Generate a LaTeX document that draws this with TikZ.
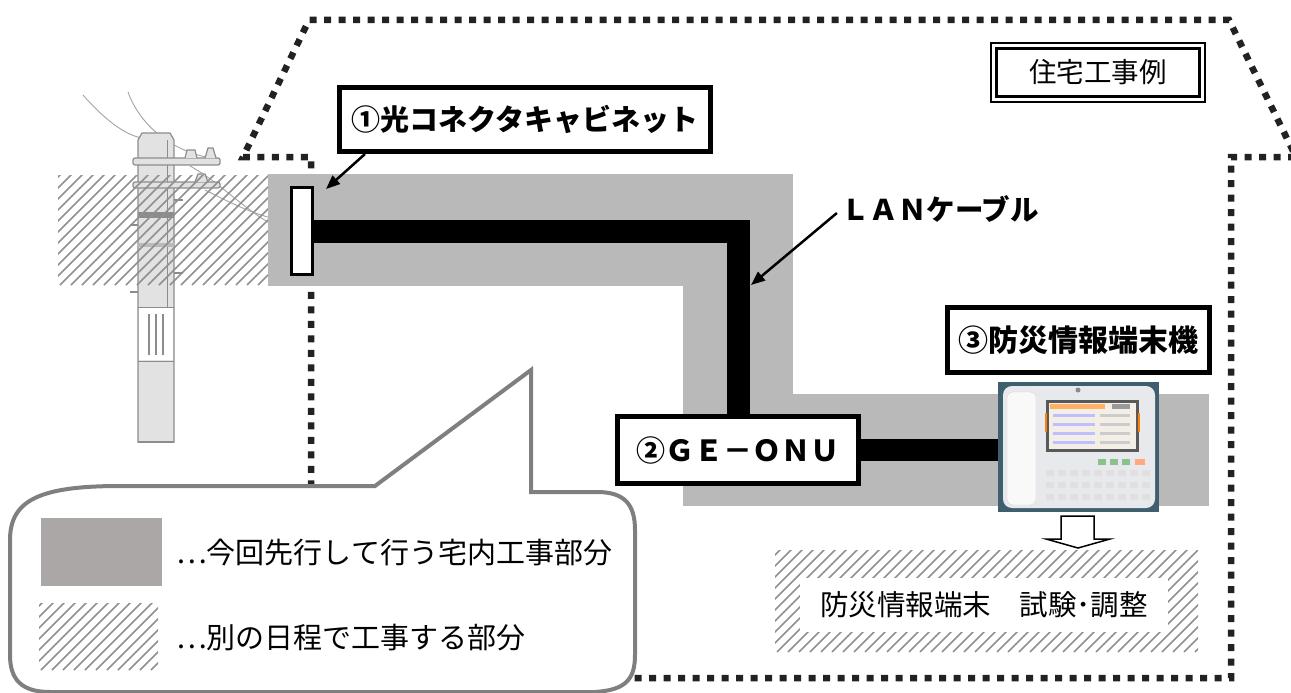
\documentclass[tikz,border=0pt]{standalone}
\usepackage{fontspec}
\setmainfont{Noto Sans CJK JP}
\usetikzlibrary{arrows.meta,calc}
\definecolor{bandgray}{HTML}{B9B9B9}
\definecolor{leggray}{HTML}{ABA7A7}
\definecolor{hatchgray}{HTML}{909090}
\definecolor{calloutgray}{HTML}{7F7F7F}
\definecolor{dotcol}{HTML}{222222}
\definecolor{polefill}{HTML}{E2E2E2}
\definecolor{poleline}{HTML}{8C8C8C}
\definecolor{phonebg}{HTML}{3F5F6E}
\definecolor{phonebody}{HTML}{E8E9ED}
\definecolor{screenbg}{HTML}{F3EFE6}
\newcommand\mkhatch[4]{%
  \begin{scope}
    \clip (#1,#2) rectangle (#3,#4);
    \foreach \k in {0,11,...,600} {
      \draw[hatchline] ({#1-130+\k},#4) -- ++(140,-140);
    }
  \end{scope}}
\tikzset{
  housedot/.style={line width=6.5pt, draw=dotcol, dash pattern=on 7pt off 7.5pt},
  hatchline/.style={draw=hatchgray, line width=1.5pt},
  cable/.style={line width=23pt, draw=black},
  labelbox/.style={draw=black, line width=5pt, fill=white, inner sep=0pt,
    font=\fontsize{29}{31}\selectfont\bfseries},
  arr/.style={line width=2.5pt, -{Triangle[length=14pt,width=11pt]}},
  poleshape/.style={fill=polefill, draw=poleline, line width=1.2pt},
  wire/.style={draw=poleline!80, line width=0.9pt},
  callout/.style={draw=calloutgray, line width=4pt, fill=white},
  legtext/.style={anchor=west, inner sep=0pt, font=\fontsize{29}{31}\selectfont},
}
\begin{document}
\begin{tikzpicture}[x=1pt,y=-1pt]
\useasboundingbox (0,0) rectangle (1291,693);

% house outline
\draw[housedot] (620,678) -- (1231,678) -- (1231,157) -- (1296,157) -- (1229,20)
  -- (309,20) -- (243,157) -- (311,157) -- (311,600);

% utility pole
\draw[wire] (83,95) .. controls (105,120) and (125,135) .. (142,138);
\draw[wire] (128,92) .. controls (140,125) and (170,150) .. (210,158);
\draw[wire] (190,166) .. controls (225,185) and (255,222) .. (292,233);
\draw[wire] (205,190) .. controls (235,205) and (260,218) .. (292,222);
\draw[poleshape] (138,442) -- (138,140) -- (142,133) -- (170,133) -- (174,140) -- (174,442) -- cycle;
\draw[poleline, line width=0.8pt] (167,140) -- (167,307);
\draw[poleshape, rounded corners=2pt] (133,158) rectangle (220,165);
\draw[poleshape, rounded corners=2pt] (133,182) rectangle (220,188);
\draw[poleshape] (185,158) -- (187,150) -- (195,150) -- (197,158);
\draw[poleshape] (205,158) -- (208,148) -- (213,148) -- (216,158);
\draw[poleshape] (195,182) -- (198,174) -- (205,174) -- (208,182);
\fill[poleline] (138,212) rectangle (174,218);
\fill[poleline!60] (138,243) rectangle (174,247);
\draw[poleline, line width=1.2pt] (174,200) -- (183,200) (130,225) -- (138,225)
  (174,273) -- (183,273) (130,292) -- (138,292);
\draw[poleline, line width=1pt] (138,307) -- (174,307) (138,361) -- (174,361);
\fill[white] (139,308) rectangle (173,360);
\draw[poleline, line width=1.3pt] (149,314) -- (149,355) (156,314) -- (156,355) (163,314) -- (163,355);
\draw[poleline, line width=1.6pt] (138,442) -- (174,442);

% hatched area (left)
\mkhatch{58}{175}{268}{285}

% gray work area
\fill[bandgray] (268,174) rectangle (793,286);
\fill[bandgray] (683,174) rectangle (793,506);
\fill[bandgray] (683,394) rectangle (1209,506);

% nodes
\node[draw=black, line width=3pt, fill=white, minimum width=21pt, minimum height=87pt, inner sep=0pt]
  (cab) at (302,231) {};
\node[labelbox, minimum width=371pt, minimum height=64pt] (lab1) at (525,119.5) {①光コネクタキャビネット};
\node[labelbox, minimum width=262pt, minimum height=65pt, font=\fontsize{30}{32}\selectfont\bfseries]
  (lab3) at (1078.5,340) {③防災情報端末機};
\node[labelbox, minimum width=241pt, minimum height=67pt] (onu) at (738,450) {②ＧＥ－ＯＮＵ};
\node[inner sep=0pt, minimum width=161pt, minimum height=130pt, fill=phonebg] (phone) at (1078.5,447) {};

% cables
\draw[cable] (cab.east) -| (onu.north);
\draw[line width=22pt] (onu.east) -- (onu.east -| phone.west);

% title box
\node[draw=black, line width=1.3pt, minimum width=214pt, minimum height=59pt, inner sep=0pt] (titleo) at (1098,72.5) {};
\node[draw=black, line width=3pt, minimum width=203pt, minimum height=48pt, inner sep=0pt,
  font=\fontsize{27.5}{29}\selectfont] (title) at (1098,72.5) {住宅工事例};

% LAN label
\node[inner sep=0pt, font=\fontsize{28.5}{30}\selectfont\bfseries] (lan) at (940,209) {ＬＡＮケーブル};
\coordinate (lanpt) at (751,285);
\draw[arr] ([xshift=-4pt,yshift=-4pt]lan.west) -- (lanpt);
\draw[arr] ([xshift=28pt]lab1.south west) -- ([xshift=12pt,yshift=-3pt]cab.north east);

% phone details
\fill[phonebody, rounded corners=9pt] (1003,386) rectangle (1155,508);
\draw[fill=white!95!gray, draw=black!15, rounded corners=6pt] (1007,392) rectangle (1036,505);
\fill[black!45] (1078,390) circle (2.5pt);
\fill[black!65] (1046,400) rectangle (1139,452);
\fill[screenbg] (1049,403) rectangle (1136,449);
\fill[orange!60] (1050,404) rectangle (1105,409);
\fill[black!40] (1112,404) rectangle (1130,409);
\foreach \r in {414,423,432,441} {
  \fill[blue!25] (1053,\r) rectangle (1095,\r+3);
  \fill[black!20] (1100,\r) rectangle (1130,\r+3);
}
\fill[orange] (1045,413) rectangle (1047,432);
\fill[orange] (1138,413) rectangle (1140,432);
\foreach \yy in {470,482,494} {
  \foreach \xx in {1046,1058,1070,1082,1094,1106,1118,1130,1142} {
    \fill[black!12, rounded corners=1pt] (\xx,\yy) rectangle (\xx+8,\yy+6);
  }
}
\fill[green!30!gray!70] (1098,459) rectangle (1106,465);
\fill[green!30!gray!70] (1110,459) rectangle (1118,465);
\fill[green!30!gray!70] (1122,459) rectangle (1130,465);
\fill[red!35!orange!50] (1135,459) rectangle (1145,465);

% hollow arrow
\draw[fill=white, line width=1.5pt] (1061,516) -- (1094,516) -- (1094,539) -- (1110,539)
  -- (1078,548) -- (1046,539) -- (1061,539) -- cycle;

% test box
\mkhatch{775}{550}{1198}{652}
\fill[white] (800,578) rectangle (1168,632);
\node[inner sep=0pt, font=\fontsize{28.5}{30}\selectfont] (test) at (984,605) {防災情報端末　試験･調整};

% callout legend
\draw[callout] (120,486) -- (375,486) -- (531,370) -- (531,492) -- (597,492)
  .. controls (625,492) and (635,505) .. (635,530) -- (635,655)
  .. controls (635,680) and (625,690) .. (595,692) -- (50,692)
  .. controls (22,692) and (10,680) .. (10,655) -- (10,540)
  .. controls (10,500) and (40,486) .. (120,486) -- cycle;
\node[fill=leggray, minimum width=121pt, minimum height=68pt, inner sep=0pt] (leg1) at (101.5,552) {};
\node[legtext] (leg1t) at (176,553) {…今回先行して行う宅内工事部分};
\mkhatch{39}{603}{158}{670}
\coordinate (leg2) at (98.5,636.5);
\node[legtext] (leg2t) at (176,638) {…別の日程で工事する部分};
\end{tikzpicture}
\end{document}
